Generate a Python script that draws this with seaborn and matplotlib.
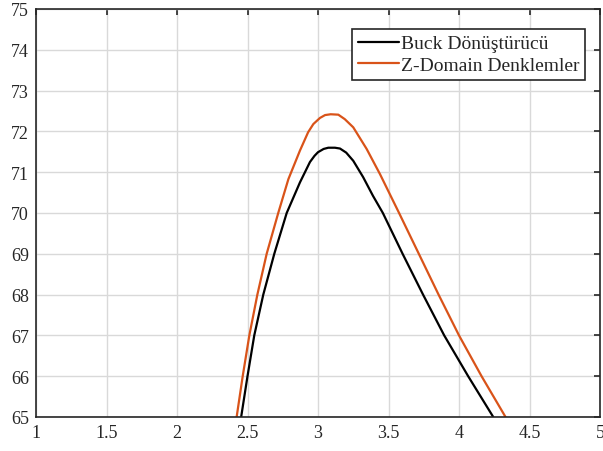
import numpy as np
import pandas as pd
import matplotlib
matplotlib.use("Agg")
import matplotlib.pyplot as plt
import seaborn as sns

# Data
buck_x = [2.455, 2.50, 2.548, 2.612, 2.69, 2.778, 2.872, 2.943, 2.975, 3.0, 3.04, 3.073, 3.12, 3.156, 3.2, 3.25, 3.32, 3.39, 3.46, 3.60, 3.745, 3.895, 4.065, 4.243]
buck_y = [65.0, 66.0, 67.0, 68.0, 69.0, 70.0, 70.75, 71.25, 71.4, 71.49, 71.57, 71.6, 71.6, 71.58, 71.48, 71.28, 70.88, 70.42, 70.0, 69.0, 68.0, 67.0, 66.0, 65.0]
zdom_x = [2.423, 2.466, 2.513, 2.57, 2.636, 2.718, 2.79, 2.872, 2.93, 2.967, 3.014, 3.05, 3.09, 3.144, 3.19, 3.25, 3.345, 3.44, 3.575, 3.715, 3.855, 4.0, 4.16, 4.33]
zdom_y = [65.0, 66.0, 67.0, 68.0, 69.0, 70.0, 70.83, 71.53, 71.98, 72.18, 72.33, 72.4, 72.42, 72.41, 72.3, 72.1, 71.57, 70.95, 70.0, 69.0, 68.0, 67.0, 66.0, 65.0]
series_names = ["Buck Dönüştürücü", "Z-Domain Denklemler"]
x_ticks = [1, 1.5, 2, 2.5, 3, 3.5, 4, 4.5, 5]
x_tick_labels = ["1", "1.5", "2", "2.5", "3", "3.5", "4", "4.5", "5"]
y_ticks = list(range(65, 76))

df = pd.concat([
    pd.DataFrame({"x": buck_x, "y": buck_y, "series": series_names[0]}),
    pd.DataFrame({"x": zdom_x, "y": zdom_y, "series": series_names[1]}),
])

sns.set_style("white")
plt.rcParams["font.family"] = ["Liberation Serif", "DejaVu Serif"]

fig = plt.figure(figsize=(6.03, 4.52), dpi=100)
ax = fig.add_axes([36/603, 1-418/452, (600-36)/603, (418-10)/452])

sns.lineplot(data=df, x="x", y="y", hue="series", palette={series_names[0]: "black", series_names[1]: "#D95319"},
             estimator=None, sort=False, linewidth=1.6, ax=ax)

ax.set_xlim(1, 5)
ax.set_ylim(65, 75)
ax.set_xticks(x_ticks)
ax.set_xticklabels(x_tick_labels)
ax.set_yticks(y_ticks)
ax.set_xlabel("")
ax.set_ylabel("")
ax.grid(True, color="#d9d9d9", linewidth=1.0)
ax.set_axisbelow(True)
for s in ax.spines.values():
    s.set_visible(True)
    s.set_color("#262626")
    s.set_linewidth(1.2)
ax.tick_params(direction="in", length=4, width=1.2, color="#262626", labelsize=13,
               top=True, right=True, labelcolor="#262626", pad=5)

leg = ax.legend(loc="upper right", bbox_to_anchor=((585-36)/564, (418-30)/408), borderaxespad=0,
                fontsize=14, handlelength=2.1, handletextpad=0.1, borderpad=0.3, labelspacing=0.2,
                fancybox=False, framealpha=1, edgecolor="#262626")
leg.get_frame().set_linewidth(1.2)

fig.savefig("out.png", dpi=100)
